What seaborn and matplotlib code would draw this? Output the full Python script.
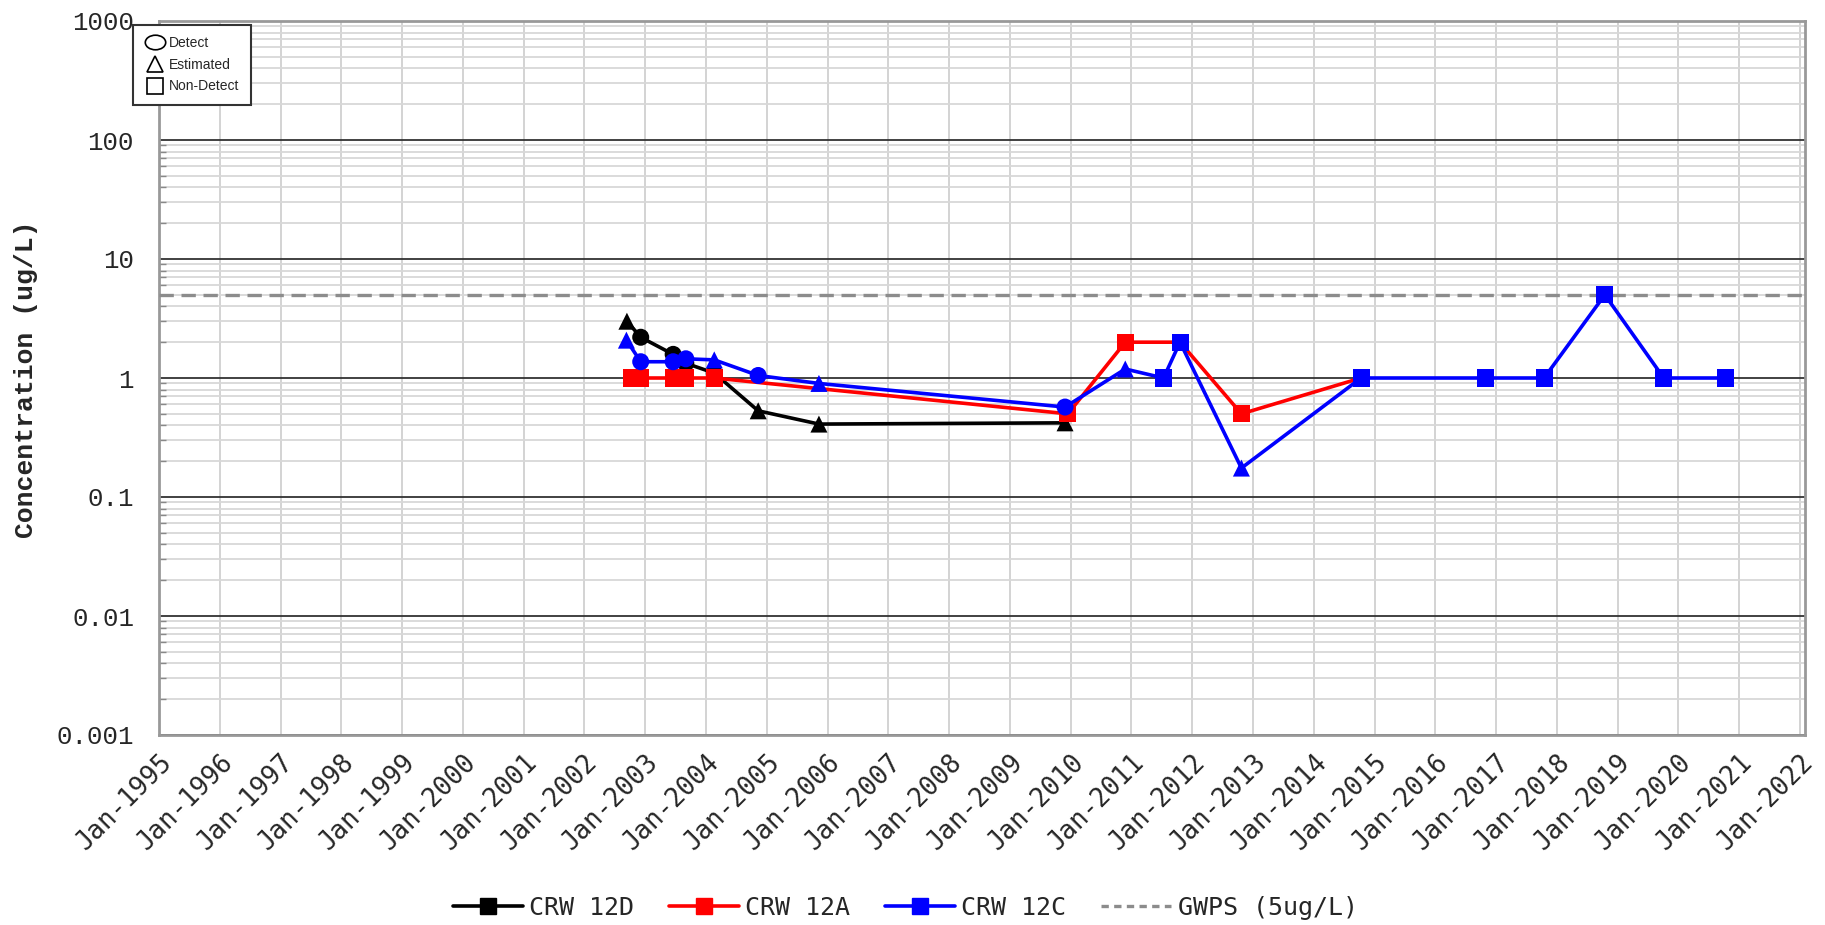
import numpy as np
import pandas as pd
import matplotlib
matplotlib.use("Agg")
import matplotlib.pyplot as plt
from matplotlib.lines import Line2D
from matplotlib.markers import MarkerStyle
from matplotlib.transforms import Affine2D, ScaledTranslation
from matplotlib.ticker import FixedLocator, NullFormatter, LogLocator
import seaborn as sns

# ---------------- data ----------------
crw12d_dates = ["2002-09-13", "2002-12-05", "2003-06-18", "2003-09-02", "2004-02-20",
                "2004-11-10", "2005-11-10", "2009-11-28"]
crw12d_values = [3.0, 2.2, 1.58, 1.33, 1.1, 0.53, 0.41, 0.42]
crw12d_flags = ["Estimated", "Detect", "Detect", "Detect", "Detect",
                "Estimated", "Estimated", "Estimated"]

crw12a_dates = ["2002-10-08", "2002-12-05", "2003-06-18", "2003-09-02", "2004-02-20",
                "2009-12-15", "2010-11-25", "2011-10-20", "2012-10-23", "2014-10-12"]
crw12a_values = [1.0, 1.0, 1.0, 1.0, 1.0, 0.5, 2.0, 2.0, 0.5, 1.0]
crw12a_flags = ["Non-Detect"] * 10

crw12c_dates = ["2002-09-10", "2002-12-05", "2003-06-18", "2003-09-02", "2004-02-20",
                "2004-11-10", "2005-11-10", "2009-11-28", "2010-11-25", "2011-07-13",
                "2011-10-20", "2012-10-23", "2014-10-12", "2016-10-30", "2017-10-16",
                "2018-10-16", "2019-10-05", "2020-10-12"]
crw12c_values = [2.08, 1.37, 1.37, 1.45, 1.42, 1.05, 0.90, 0.57, 1.19, 1.0,
                 2.0, 0.175, 1.0, 1.0, 1.0, 5.0, 1.0, 1.0]
crw12c_flags = ["Estimated", "Detect", "Detect", "Detect", "Estimated",
                "Detect", "Estimated", "Detect", "Estimated", "Non-Detect",
                "Non-Detect", "Estimated", "Non-Detect", "Non-Detect", "Non-Detect",
                "Non-Detect", "Non-Detect", "Non-Detect"]

well_names = ["CRW 12D", "CRW 12A", "CRW 12C"]
well_colors = ["#000000", "#ff0000", "#0000ff"]
gwps_value = 5.0
gwps_label = "GWPS (5ug/L)"
y_ticks = [0.001, 0.01, 0.1, 1, 10, 100, 1000]
y_tick_labels = ["0.001", "0.01", "0.1", "1", "10", "100", "1000"]
x_years = list(range(1995, 2023))
flag_markers = {"Detect": "o", "Estimated": "^", "Non-Detect": "s"}

# ---------------- style ----------------
sns.set_style("white")
plt.rcParams["font.family"] = ["DejaVu Sans Mono", "DejaVu Sans"]

W, H = 1825, 925
fig = plt.figure(figsize=(W / 100, H / 100), dpi=100)
L, R, T, B = 159, 1805, 21, 735
ax = fig.add_axes([L / W, 1 - B / H, (R - L) / W, (B - T) / H])

series = [
    (crw12d_dates, crw12d_values, crw12d_flags),
    (crw12a_dates, crw12a_values, crw12a_flags),
    (crw12c_dates, crw12c_values, crw12c_flags),
]

for i, ((d, v, f), name, col) in enumerate(zip(series, well_names, well_colors)):
    df = pd.DataFrame({"date": pd.to_datetime(d), "value": v, "flag": f})
    sns.lineplot(data=df, x="date", y="value", color=col, linewidth=2.6,
                 estimator=None, sort=False, ax=ax, zorder=3 + 2 * i, legend=False)
    present = [k for k in flag_markers if k in set(f)]
    sns.scatterplot(data=df, x="date", y="value", style="flag",
                    style_order=present,
                    markers={k: flag_markers[k] for k in present},
                    color=col, edgecolor=col, linewidth=0, s=150,
                    ax=ax, zorder=4 + 2 * i, legend=False)

ax.axhline(gwps_value, color="#8c8c8c", linestyle=(0, (4.3, 2.3)), linewidth=2.4, zorder=2.6)

# axes
ax.set_yscale("log")
ax.set_ylim(0.001, 1000)
ax.yaxis.set_major_locator(FixedLocator(y_ticks))
ax.set_yticklabels(y_tick_labels, fontfamily="Liberation Mono", fontsize=18.5)
ax.yaxis.set_minor_locator(LogLocator(base=10, subs=np.arange(2, 10)))
ax.yaxis.set_minor_formatter(NullFormatter())

xt = [pd.Timestamp(f"{y}-01-01") for y in x_years]
ax.set_xlim(pd.Timestamp("1995-01-01"), pd.Timestamp("2022-01-31"))
ax.set_xticks(xt)
ax.set_xticklabels([f"Jan-{y}" for y in x_years], rotation=45, ha="right", va="top",
                   rotation_mode="anchor", fontsize=18.5)
off = ScaledTranslation(6 / 100, 0, fig.dpi_scale_trans)
for lab in ax.get_xticklabels():
    lab.set_transform(lab.get_transform() + off)
ax.tick_params(axis="x", length=7, width=1.2, color="#999999", pad=3)
ax.tick_params(axis="y", which="major", length=7, width=1.2, color="#999999", pad=11)
ax.tick_params(axis="y", which="minor", direction="in", length=5, width=1,
               color="#888888", left=True)

ax.set_xlabel("")
ax.set_ylabel("")
ax.grid(False)
ax.yaxis.grid(True, which="major", color="#333333", linewidth=1.3, zorder=1)
ax.yaxis.grid(True, which="minor", color="#d8d8d8", linewidth=1.3, zorder=1)
ax.xaxis.grid(True, which="major", color="#d0d0d0", linewidth=1.3, zorder=1)
ax.set_axisbelow(True)
for s in ax.spines.values():
    s.set_visible(True)
    s.set_color("#999999")
    s.set_linewidth(2)

fig.text(26 / W, 1 - 379 / H, "Concentration (ug/L)", rotation=90,
         ha="center", va="center", fontsize=19, fontweight="bold",
         fontfamily="Liberation Mono")

# bottom legend
handles = [Line2D([], [], color=c, lw=2.6, marker="s", markersize=12) for c in well_colors]
handles.append(Line2D([], [], color="#8c8c8c", lw=2.4, linestyle=(0, (2.2, 1.6))))
fig.legend(handles, well_names + [gwps_label], loc="center",
           bbox_to_anchor=(905 / W, 17 / H), ncol=4, frameon=False,
           fontsize=18, handlelength=2.8, handletextpad=0.25, columnspacing=1.4)

# marker-type legend
ell = MarkerStyle("o", fillstyle="none", transform=Affine2D().scale(1.4, 1.0))
mh = [Line2D([], [], ls="none", marker=ell, mfc="none", mec="black", mew=1.2, markersize=10.5),
      Line2D([], [], ls="none", marker="^", mfc="none", mec="black", mew=1.2, markersize=12),
      Line2D([], [], ls="none", marker="s", mfc="none", mec="black", mew=1.2, markersize=12)]
leg2 = fig.legend(mh, ["Detect", "Estimated", "Non-Detect"], loc="upper left",
                  bbox_to_anchor=(133 / W, 1 - 25 / H), frameon=True, fancybox=False,
                  edgecolor="#333333", framealpha=1.0,
                  prop={"family": "Liberation Sans", "size": 10},
                  handlelength=1.5, handletextpad=0.3, borderpad=0.8,
                  labelspacing=0.55, borderaxespad=0)
leg2.get_frame().set_linewidth(1.5)

fig.savefig("out.png", dpi=100)
